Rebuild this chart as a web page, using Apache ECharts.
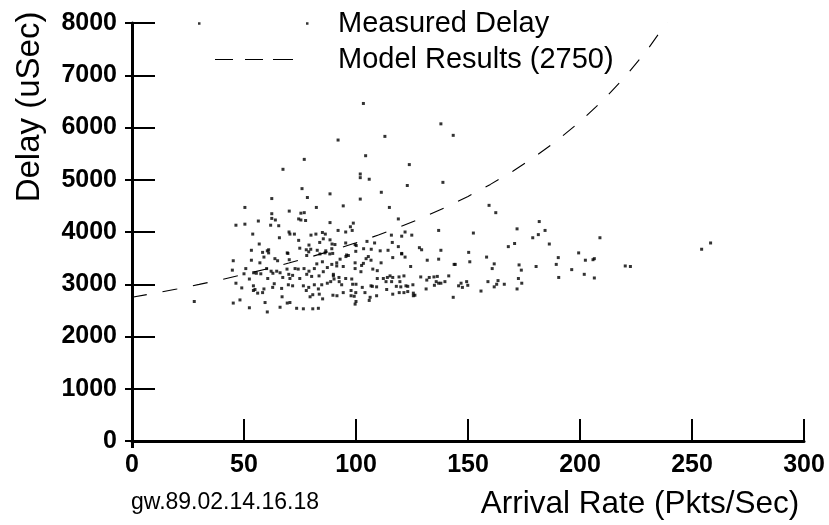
<!DOCTYPE html>
<html>
<head>
<meta charset="utf-8">
<script src="https://cdn.jsdelivr.net/npm/echarts@6/dist/echarts.min.js"></script>
<style>html,body{margin:0;padding:0;background:#fff}#chart{width:829px;height:525px}</style>
</head>
<body>
<div id="chart"></div>
<script>
// Measured delay scatter (arrival rate in Pkts/Sec, delay in uSec)
var arrivalRate = [
143.4,159.4,162.4,152.4,171.9,181.8,184.4,181.4,178.9,170.8,168.0,186.3,208.9,150.3,150.8,144.3,158.3,161.7,160.8,172.8,
173.8,180.4,190.3,189.4,199.4,202.4,205.8,206.4,196.3,190.5,201.9,206.4,220.2,222.5,254.3,258.3,141.4,139.7,145.8,146.9,
147.5,149.4,149.9,158.9,163.4,162.8,161.7,166.2,172.5,174.0,171.9,155.8,143.4,103.3,137.9,112.9,92.0,104.3,76.9,123.8,
67.4,101.9,101.9,105.9,138.8,122.9,75.9,111.3,88.4,62.4,78.3,50.4,82.3,70.2,62.4,75.4,76.9,62.4,64.0,74.4,
75.4,77.5,56.4,46.4,50.4,61.9,65.5,88.4,53.9,70.1,70.5,72.5,79.9,82.1,85.0,86.3,65.8,85.4,88.4,74.4,
83.8,56.8,79.0,89.3,74.9,77.8,79.8,82.7,53.3,58.3,60.4,61.0,69.3,78.9,86.5,88.3,101.9,94.3,114.9,118.9,
98.8,97.5,92.0,95.4,98.3,136.9,121.9,115.8,120.4,124.9,90.6,95.4,99.6,100.1,104.9,108.3,116.2,118.9,128.3,129.3,
137.9,89.2,103.4,106.8,110.8,114.3,99.9,120.4,95.8,27.8,45.2,53.3,57.1,58.9,61.0,63.8,65.0,69.6,70.2,78.0,
83.9,86.2,44.8,50.0,50.8,52.4,54.3,55.5,57.5,60.1,60.6,62.1,62.9,64.6,66.1,67.3,69.2,70.0,70.5,71.7,
72.8,74.2,74.9,76.8,78.0,79.0,80.2,81.4,82.5,83.5,85.0,85.4,87.2,87.2,89.9,89.6,46.4,49.0,54.2,54.9,
56.1,58.3,58.9,62.8,63.5,66.8,69.8,71.7,76.5,77.8,78.9,79.5,80.7,83.2,83.6,81.4,84.7,54.2,67.0,69.3,
70.5,85.1,45.2,48.2,59.4,52.4,66.1,73.5,76.5,80.7,83.2,60.4,95.5,96.6,92.9,91.4,89.2,91.4,94.3,99.6,
99.6,102.5,104.5,105.5,106.7,103.3,111.2,116.4,120.4,121.9,124.4,131.8,136.9,143.8,107.5,109.5,102.2,89.9,92.4,90.2,
95.4,88.7,92.5,93.6,98.1,98.5,100.0,109.5,112.2,114.0,115.2,116.4,113.4,115.9,119.2,121.4,119.6,118.0,120.0,122.3,
123.1,125.4,128.9,131.6,132.7,134.8,136.3,135.8,135.0,136.9,137.9,131.3,102.8,106.7,107.3,109.2,97.8,99.9,94.3,89.7,
91.5,104.0,113.7,116.4,119.3,121.4,123.1,125.6,126.3,125.6,97.8,99.2,106.3,105.9,109.2,100.0,99.6
];
var measuredDelay = [
5850,4510,4370,3980,4060,4200,4030,3950,3890,3780,3720,3770,3890,3610,3430,3380,3520,3390,3300,3370,
3270,3340,3510,3380,3600,3460,3470,3490,3280,3130,3190,3120,3350,3340,3670,3790,3160,3050,2970,3020,
2940,3050,2980,3050,3070,3000,2950,3000,3110,3020,2910,2870,2750,6460,6070,5830,5760,5460,5390,5290,
5200,5110,5040,5010,4950,4890,4830,4760,4730,4640,4660,4470,4470,4400,4350,4360,4370,4260,4230,4250,
4230,4220,4210,4130,4150,4130,4120,4180,3960,4000,3960,3960,3940,3960,3990,3960,3890,3870,3850,3840,
3800,3770,3750,3770,3690,3660,3670,3650,3650,3610,3640,3660,3600,3620,3640,3580,4630,4500,4470,4250,
4170,4100,4030,4000,4030,4030,4000,3940,3920,3940,3760,3790,3760,3740,3820,3790,3800,3720,3700,3660,
3650,3680,3680,3670,3640,3650,3630,3580,3560,2670,3450,3460,3410,3520,3600,3490,3450,3590,3470,3550,
3580,3600,3270,3200,3300,3100,3220,3210,3200,3300,3110,3250,3210,3250,3220,3130,3290,3190,3110,3170,
3300,3290,3110,3300,3190,3250,3150,3300,3390,3160,3430,3240,3320,3020,3160,3590,3020,2930,2970,2900,
2830,2840,2910,2940,3010,2920,2990,2970,2970,2880,2940,2760,2800,2910,2810,2990,2990,2880,2760,2640,
2650,2720,2640,2700,2650,2550,2560,2540,2530,2530,2540,2470,3530,3550,3480,3410,3380,3350,3340,3410,
3300,3360,3490,3530,3460,3400,3410,3510,3590,3520,3340,3460,3480,3380,3290,3260,3240,3190,3130,3100,
3110,3050,3050,2990,3100,3000,3000,3110,3110,3130,3160,3130,3050,3050,3140,3160,3050,2960,2950,2970,
2960,2990,3140,3080,3130,3140,3150,3050,2980,3020,3020,2910,2940,2970,2960,2950,2880,2840,2840,2790,
2780,2840,2900,2810,2840,2840,2860,2830,2790,2780,2780,2770,2750,2690,2780,2670,2620
];
// Model results curve
var modelRate  = [0,10,20,30,40,50,60,70,80,90,100,110,120,130,140,150,160,170,180,190,200,210,220,230,240];
var modelDelay = [2750,2828,2910,2997,3090,3188,3293,3406,3526,3654,3793,3943,4104,4280,4472,4681,4911,5164,5446,5759,6111,6509,6962,7483,8088];
var xTicks = {min: 0, max: 300, step: 50};
var yTicks = {min: 0, max: 8000, step: 1000};

var scatterData = arrivalRate.map(function (r, i) { return [r, measuredDelay[i]]; });
var modelData = modelRate.map(function (r, i) { return [r, modelDelay[i]]; });

var FONT = 'Liberation Sans, Arial, Helvetica, sans-serif';
var plain = function (v) { return String(v); };
var chart = echarts.init(document.getElementById('chart'), null, {renderer: 'canvas'});
chart.setOption({
  animation: false,
  backgroundColor: '#fff',
  textStyle: {fontFamily: FONT, color: '#000'},
  title: {
    text: 'gw.89.02.14.16.18', left: 131, top: 491, padding: 0,
    textStyle: {fontFamily: FONT, fontSize: 23, fontWeight: 'normal', color: '#000'}
  },
  legend: [{
    data: ['Measured Delay'], left: 198, top: 9, padding: 0, selectedMode: false,
    orient: 'vertical',
    icon: 'path://M0,0h2.5v2.5h-2.5zM108,0h2.5v2.5h-2.5zM134,0L135,0Z',
    itemWidth: 135, itemHeight: 2.5,
    itemStyle: {color: '#000', borderWidth: 0},
    textStyle: {fontFamily: FONT, fontSize: 29, color: '#000'}
  }, {
    data: ['Model Results (2750)'], left: 215, top: 45, padding: 0, selectedMode: false,
    orient: 'vertical',
    icon: 'path://M0,0h18v1.2h-18zM30,0h18v1.2h-18zM58,0h20v1.2h-20zM117,0L118,0Z',
    itemWidth: 118, itemHeight: 1.2,
    itemStyle: {color: '#000', borderWidth: 0},
    lineStyle: {width: 0},
    textStyle: {fontFamily: FONT, fontSize: 29, color: '#000'}
  }],
  grid: {left: 132, right: 25, top: 23, bottom: 80},
  xAxis: [{
    type: 'value', min: xTicks.min, max: xTicks.max, interval: xTicks.step,
    axisLine: {lineStyle: {color: '#000', width: 3}},
    axisTick: {inside: true, length: 22, lineStyle: {color: '#000', width: 2}},
    axisLabel: {margin: 12, fontFamily: FONT, fontSize: 25, fontWeight: 'bold', color: '#000', formatter: plain},
    splitLine: {show: false},
    name: 'Arrival Rate (Pkts/Sec)', nameLocation: 'middle', nameGap: 47, nameMoveOverlap: false,
    nameTextStyle: {fontFamily: FONT, fontSize: 31.5, color: '#000', padding: [0, 0, 0, 344]}
  }, {
    type: 'value', position: 'bottom', min: xTicks.min, max: xTicks.max, interval: xTicks.step,
    axisLine: {show: false},
    axisTick: {inside: false, length: 7, customValues: [0], lineStyle: {color: '#000', width: 3}},
    axisLabel: {show: false}, splitLine: {show: false}
  }],
  yAxis: [{
    type: 'value', min: yTicks.min, max: yTicks.max, interval: yTicks.step,
    axisLine: {show: true, lineStyle: {color: '#000', width: 3}},
    axisTick: {show: true, inside: true, length: 23, lineStyle: {color: '#000', width: 2}},
    axisLabel: {margin: 15, fontFamily: FONT, fontSize: 25, fontWeight: 'bold', color: '#000', formatter: plain},
    splitLine: {show: false},
    name: 'Delay (uSec)', nameLocation: 'middle', nameRotate: 90, nameGap: 86, nameMoveOverlap: false,
    nameTextStyle: {fontFamily: FONT, fontSize: 33, color: '#000', padding: [0, 0, 0, 250]}
  }, {
    type: 'value', position: 'left', min: yTicks.min, max: yTicks.max, interval: yTicks.step,
    axisLine: {show: false},
    axisTick: {show: true, inside: false, length: 7, lineStyle: {color: '#000', width: 2}},
    axisLabel: {show: false}, splitLine: {show: false}
  }],
  series: [{
    name: 'Measured Delay', type: 'scatter', data: scatterData,
    symbol: 'rect', symbolSize: 3,
    itemStyle: {color: '#000'}, z: 3
  }, {
    name: 'Model Results (2750)', type: 'line', data: modelData,
    showSymbol: false, symbol: 'none', clip: true,
    lineStyle: {color: '#000', width: 1.1, type: [15, 16]}, z: 2
  }]
});
</script>
</body>
</html>
